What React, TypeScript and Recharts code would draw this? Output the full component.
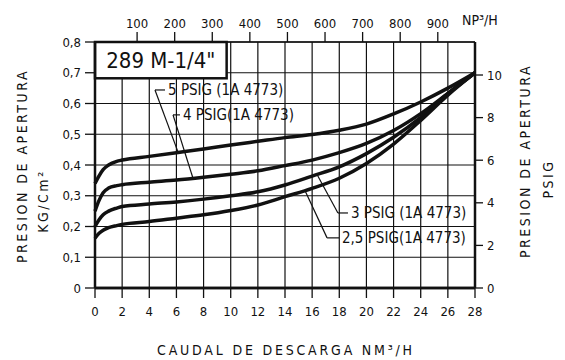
import { LineChart, Line, XAxis, YAxis, ReferenceLine } from 'recharts';

const FONT = '"DejaVu Sans Condensed", "DejaVu Sans", sans-serif';

// caudal de descarga, Nm3/h
const caudal = [0, 0.3, 0.6, 1, 1.6, 2, 4, 6, 8, 10, 12, 14, 16, 18, 20, 22, 24, 26, 28];
// presion de apertura, kg/cm2
const psig5 = [0.34, 0.365, 0.385, 0.4, 0.412, 0.416, 0.428, 0.44, 0.452, 0.465, 0.477, 0.489, 0.499, 0.513, 0.533, 0.566, 0.605, 0.65, 0.7];
const psig4 = [0.25, 0.285, 0.31, 0.325, 0.333, 0.336, 0.344, 0.351, 0.36, 0.37, 0.381, 0.398, 0.416, 0.44, 0.47, 0.512, 0.567, 0.633, 0.7];
const psig3 = [0.2, 0.222, 0.238, 0.25, 0.26, 0.265, 0.273, 0.28, 0.289, 0.3, 0.313, 0.335, 0.364, 0.394, 0.437, 0.49, 0.555, 0.632, 0.7];
const psig25 = [0.162, 0.178, 0.188, 0.196, 0.203, 0.207, 0.216, 0.227, 0.238, 0.252, 0.27, 0.297, 0.324, 0.357, 0.405, 0.468, 0.545, 0.627, 0.7];

const xTicks = [0, 2, 4, 6, 8, 10, 12, 14, 16, 18, 20, 22, 24, 26, 28];
const kgTicks = [0, 0.1, 0.2, 0.3, 0.4, 0.5, 0.6, 0.7, 0.8];
const psiTicks = [0, 2, 4, 6, 8, 10];
const npTicks = [100, 200, 300, 400, 500, 600, 700, 800, 900];
const npDomain = [-12, 999];

// leader lines: point on curve, elbow, end of the short horizontal
const leaders = [
  { text: '5 PSIG  (1A 4773)', curve: { x: 6.12, y: 0.442 }, elbow: { x: 4.42, y: 0.644 }, tail: { x: 5.16, y: 0.644 } },
  { text: '4 PSIG(1A 4773)', curve: { x: 7.22, y: 0.357 }, elbow: { x: 5.75, y: 0.563 }, tail: { x: 6.26, y: 0.563 } },
  { text: '3 PSIG (1A 4773)', curve: { x: 16.36, y: 0.369 }, elbow: { x: 17.9, y: 0.244 }, tail: { x: 18.64, y: 0.244 } },
  { text: '2,5 PSIG(1A 4773)', curve: { x: 15.47, y: 0.317 }, elbow: { x: 17.1, y: 0.163 }, tail: { x: 17.98, y: 0.163 } },
];

// title box, in data units
const box = { x1: 0, x2: 9.7, y1: 0.682, y2: 0.8, text: '289 M-1/4"' };

const data = caudal.map((x, i) => ({
  x,
  np: npDomain[0] + (x / 28) * (npDomain[1] - npDomain[0]),
  p5: psig5[i],
  p4: psig4[i],
  p3: psig3[i],
  p25: psig25[i],
}));

// layout
const W = 565;
const H = 360;
const LEFT_W = 95;
const RIGHT_W = 90;
const TOP_H = 42;
const BOTTOM_H = 72;
const X_MAX = 28;
const Y_MAX = 0.8;

const INK = '#111';
const axisLine = { stroke: INK, strokeWidth: 2.5 };
const tickLine = { stroke: INK, strokeWidth: 1.3 };
const tickStyle = { fill: INK, fontSize: 13, fontFamily: FONT };

const comma = (v: number) => (v === 0 ? '0' : v.toFixed(1).replace('.', ','));

// plot-area mapping for the grid and the title box
const sx = (v: number) => LEFT_W + (v / X_MAX) * (W - LEFT_W - RIGHT_W);
const sy = (v: number) => H - BOTTOM_H - (v / Y_MAX) * (H - BOTTOM_H - TOP_H);

function GridAndBox() {
  return (
    <g>
      {xTicks.map((t) => (
        <line key={'gx' + t} x1={sx(t)} x2={sx(t)} y1={sy(0)} y2={sy(Y_MAX)} stroke={INK} strokeWidth={1.2} />
      ))}
      {kgTicks.map((t) => (
        <line key={'gy' + t} x1={sx(0)} x2={sx(X_MAX)} y1={sy(t)} y2={sy(t)} stroke={INK} strokeWidth={t === 0 ? 2.5 : 1.2} />
      ))}
      <rect
        x={sx(box.x1)}
        y={sy(box.y2)}
        width={sx(box.x2) - sx(box.x1)}
        height={sy(box.y1) - sy(box.y2)}
        fill="#fff"
        stroke={INK}
        strokeWidth={2.5}
      />
      <text
        x={(sx(box.x1) + sx(box.x2)) / 2}
        y={(sy(box.y1) + sy(box.y2)) / 2}
        textAnchor="middle"
        dominantBaseline="central"
        fill={INK}
        fontSize={22}
        fontFamily={FONT}
      >
        {box.text}
      </text>
    </g>
  );
}

function Titles() {
  const t = { fill: INK, fontFamily: FONT, fontSize: 14, letterSpacing: 2.5 };
  return (
    <g>
      <text {...t} x={0} y={0} textAnchor="middle" dominantBaseline="central" transform="translate(22,166) rotate(-90)">
        PRESION  DE  APERTURA
      </text>
      <text {...t} x={0} y={0} textAnchor="middle" dominantBaseline="central" transform="translate(43,201) rotate(-90)">
        KG/Cm²
      </text>
      <text {...t} x={0} y={0} textAnchor="middle" dominantBaseline="central" transform="translate(525,161) rotate(-90)">
        PRESION  DE  APERTURA
      </text>
      <text {...t} x={0} y={0} textAnchor="middle" dominantBaseline="central" transform="translate(548,179) rotate(-90)">
        PSIG
      </text>
      <text {...t} letterSpacing={2.8} x={286} y={350} textAnchor="middle" dominantBaseline="central">
        CAUDAL   DE   DESCARGA   NM³/H
      </text>
      <text fill={INK} fontFamily={FONT} fontSize={14} x={462} y={20} dominantBaseline="central">
        NP³/H
      </text>
    </g>
  );
}

export default function App() {
  return (
    <div style={{ position: 'absolute', left: 0, top: 0, background: '#fff' }}>
      <LineChart width={W} height={H} data={data} margin={{ top: 0, right: 0, bottom: 0, left: 0 }}>
        <XAxis
          xAxisId="bottom"
          dataKey="x"
          type="number"
          domain={[0, X_MAX]}
          ticks={xTicks}
          height={BOTTOM_H}
          tickSize={10}
          tickMargin={9}
          tick={tickStyle}
          axisLine={axisLine}
          tickLine={tickLine}
          interval={0}
        />
        <XAxis
          xAxisId="top"
          dataKey="np"
          orientation="top"
          type="number"
          domain={npDomain}
          ticks={npTicks}
          height={TOP_H}
          tickSize={10}
          tickMargin={4}
          tick={tickStyle}
          axisLine={{ stroke: INK, strokeWidth: 1.5 }}
          tickLine={tickLine}
          interval={0}
          allowDataOverflow
        />
        <YAxis
          yAxisId="kg"
          type="number"
          domain={[0, Y_MAX]}
          ticks={kgTicks}
          width={LEFT_W}
          tickSize={10}
          tickMargin={4}
          tick={tickStyle}
          tickFormatter={comma}
          axisLine={axisLine}
          tickLine={tickLine}
          interval={0}
        />
        <YAxis
          yAxisId="psi"
          orientation="right"
          type="number"
          domain={[0, 11.55]}
          ticks={psiTicks}
          width={RIGHT_W}
          tickSize={8}
          tickMargin={4}
          tick={tickStyle}
          axisLine={axisLine}
          tickLine={tickLine}
          interval={0}
          allowDataOverflow
        />
        {leaders.map((l) => (
          <ReferenceLine
            key={l.text + 'a'}
            xAxisId="bottom"
            yAxisId="kg"
            segment={[l.curve, l.elbow]}
            stroke={INK}
            strokeWidth={1.2}
            ifOverflow="visible"
          />
        ))}
        {leaders.map((l) => (
          <ReferenceLine
            key={l.text + 'b'}
            xAxisId="bottom"
            yAxisId="kg"
            segment={[l.elbow, l.tail]}
            stroke={INK}
            strokeWidth={1.2}
            ifOverflow="visible"
            label={{
              content: (props: any) => {
                const vb = props.viewBox || {};
                return (
                  <text x={vb.x + vb.width + 3} y={vb.y + 5.5} fill={INK} fontSize={15} fontFamily={FONT}>
                    {l.text}
                  </text>
                );
              },
            }}
          />
        ))}
        <Line xAxisId="top" yAxisId="kg" type="monotone" dataKey="p5" stroke="none" dot={false} legendType="none" isAnimationActive={false} />
        <Line xAxisId="bottom" yAxisId="kg" type="monotone" dataKey="p5" stroke={INK} strokeWidth={3.5} dot={false} isAnimationActive={false} />
        <Line xAxisId="bottom" yAxisId="kg" type="monotone" dataKey="p4" stroke={INK} strokeWidth={3.5} dot={false} isAnimationActive={false} />
        <Line xAxisId="bottom" yAxisId="kg" type="monotone" dataKey="p3" stroke={INK} strokeWidth={3.5} dot={false} isAnimationActive={false} />
        <Line xAxisId="bottom" yAxisId="kg" type="monotone" dataKey="p25" stroke={INK} strokeWidth={3.5} dot={false} isAnimationActive={false} />
        <GridAndBox />
        <Titles />
      </LineChart>
    </div>
  );
}
